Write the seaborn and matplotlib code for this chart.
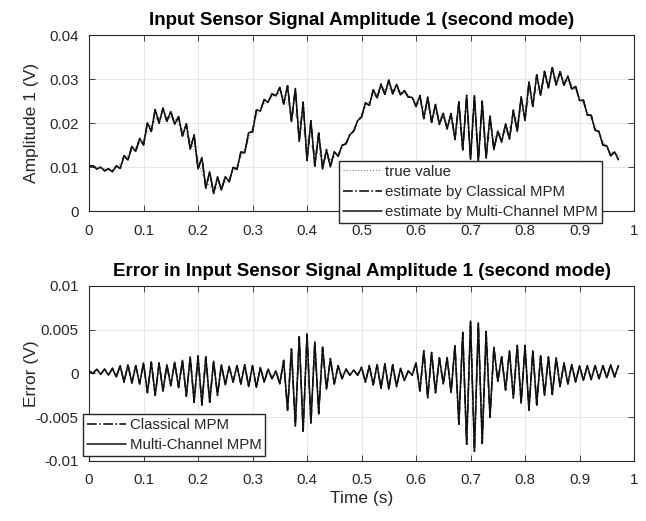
import numpy as np
import pandas as pd
import matplotlib
matplotlib.use('Agg')
import matplotlib.pyplot as plt
import seaborn as sns

# true amplitude (smooth curve)
true_t = [0, 0.039, 0.053, 0.078, 0.1, 0.112, 0.124, 0.139, 0.158, 0.17,
          0.188, 0.198, 0.207, 0.222, 0.237, 0.255, 0.274, 0.292, 0.305, 0.314,
          0.335, 0.352, 0.363, 0.378, 0.39, 0.4, 0.412, 0.425, 0.445, 0.464,
          0.485, 0.503, 0.521, 0.549, 0.571, 0.589, 0.613, 0.644, 0.675, 0.708,
          0.736, 0.766, 0.791, 0.815, 0.84, 0.858, 0.883, 0.901, 0.92, 0.938,
          0.952, 0.975]
true_v = [0.0105, 0.0093, 0.0100, 0.0135, 0.0162, 0.0190, 0.0210, 0.0215, 0.0210, 0.0188,
          0.0155, 0.0124, 0.0086, 0.0055, 0.0052, 0.0070, 0.0109, 0.0160, 0.0207, 0.0234,
          0.0260, 0.0270, 0.0245, 0.0220, 0.0190, 0.0160, 0.0140, 0.0128, 0.0116, 0.0143,
          0.0184, 0.0228, 0.0262, 0.0280, 0.0270, 0.0260, 0.0237, 0.0214, 0.0192, 0.0173,
          0.0166, 0.0180, 0.0222, 0.0265, 0.0298, 0.0305, 0.0292, 0.0258, 0.0214, 0.0169,
          0.0139, 0.0123]

# error extremes (mV), one peak/trough pair per cycle of the 70 Hz ripple
err_peaks = [0.3, 0.5, 0.5, 0.6, 0.9, 1.0, 0.9, 1.2, 1.3, 1.2,
             1.0, 1.3, 1.5, 1.9, 2.0, 1.9, 1.4, 1.0, 0.8, 0.9,
             1.0, 0.9, 0.7, 0.5, 0.3, 1.5, 2.8, 4.2, 4.5, 3.6,
             3.0, 1.7, 0.9, 0.5, 0.4, 0.7, 0.9, 1.0, 1.1, 1.0,
             0.6, 0.3, 1.2, 2.6, 2.4, 1.8, 1.8, 3.2, 4.7, 6.0,
             5.8, 4.8, 3.0, 1.9, 2.6, 3.2, 3.2, 2.6, 2.0, 1.9,
             1.8, 1.2, 1.0, 0.9, 0.9, 0.9, 0.9, 1.0, 0.9]
err_troughs = [0.0, -0.1, -0.2, -0.4, -1.0, -1.1, -1.2, -2.2, -2.5, -2.0,
               -1.4, -1.6, -2.6, -3.3, -3.6, -3.3, -2.5, -1.3, -1.0, -1.2,
               -1.5, -1.6, -1.0, -0.6, -1.2, -4.2, -6.0, -6.6, -5.7, -4.6,
               -1.8, -1.2, -0.6, -0.2, -0.2, -1.0, -1.3, -1.7, -1.8, -1.5,
               -0.8, -0.2, -2.0, -2.8, -2.2, -1.2, -2.2, -5.8, -8.1, -8.9,
               -8.0, -5.0, -0.9, -1.9, -2.8, -3.4, -4.2, -3.6, -2.5, -2.4,
               -1.5, -1.2, -1.0, -0.8, -0.7, -0.6, -0.5, -0.4]

SAMPLE_RATE = 140  # two extremes per 70 Hz cycle

x_ticks = [0, 0.1, 0.2, 0.3, 0.4, 0.5, 0.6, 0.7, 0.8, 0.9, 1]
x_tick_labels = ['0', '0.1', '0.2', '0.3', '0.4', '0.5', '0.6', '0.7', '0.8', '0.9', '1']
amp_ticks = [0, 0.01, 0.02, 0.03, 0.04]
amp_tick_labels = ['0', '0.01', '0.02', '0.03', '0.04']
err_ticks = [-0.01, -0.005, 0, 0.005, 0.01]
err_tick_labels = ['-0.01', '-0.005', '0', '0.005', '0.01']

INK = '#262626'
TICK_FS = 10.8
LABEL_FS = 12.5
TITLE_FS = 13.5


def build_frame():
    err = np.empty(len(err_peaks) + len(err_troughs))
    err[0::2] = err_peaks
    err[1::2] = err_troughs
    err = err * 1e-3
    t = np.arange(len(err)) / SAMPLE_RATE
    est = np.interp(t, true_t, true_v) - err
    return pd.DataFrame({'t': t, 'err': err, 'est': est})


def style_axes(ax, yticks, ylabels):
    ax.set_xlim(0, 1)
    ax.set_xticks(x_ticks)
    ax.set_xticklabels(x_tick_labels)
    ax.set_yticks(yticks)
    ax.set_yticklabels(ylabels)
    ax.set_ylim(yticks[0], yticks[-1])
    ax.grid(True, color='#e3e3e3', linewidth=0.6)
    ax.tick_params(direction='in', length=4, width=0.6, bottom=True, left=True,
                   top=True, right=True, colors=INK, labelsize=TICK_FS)
    ax.tick_params(axis='x', pad=9)
    ax.tick_params(axis='y', pad=7.5)
    for sp in ax.spines.values():
        sp.set_color(INK)
        sp.set_linewidth(0.8)
    ax.set_facecolor('white')


def add_legend(ax, fig, x_px, y_px):
    ax.legend(loc='upper left', bbox_to_anchor=(x_px / 646, 1 - y_px / 521),
              bbox_transform=fig.transFigure, borderaxespad=0, fancybox=False,
              edgecolor=INK, framealpha=1, fontsize=TICK_FS, handlelength=2.6,
              handletextpad=0.25, labelspacing=0.42, borderpad=0.25)


def main():
    sns.set_theme(style='whitegrid')
    plt.rcParams['font.family'] = ['Liberation Sans', 'DejaVu Sans']

    df = build_frame()

    fig = plt.figure(figsize=(6.46, 5.21), dpi=100)
    ax1 = fig.add_axes([0.1378, 0.595, 0.8437, 0.3378])
    ax2 = fig.add_axes([0.1378, 0.1152, 0.8437, 0.3359])

    # upper panel
    sns.lineplot(x=true_t, y=true_v, ax=ax1, color='#808080', linestyle=':',
                 linewidth=0.8, label='true value', estimator=None)
    sns.lineplot(data=df, x='t', y='est', ax=ax1, color='black', linestyle='-.',
                 linewidth=1.1, label='estimate by Classical MPM', estimator=None)
    sns.lineplot(data=df, x='t', y='est', ax=ax1, color='#111111', linestyle='-',
                 linewidth=1.1, label='estimate by Multi-Channel MPM', estimator=None)
    style_axes(ax1, amp_ticks, amp_tick_labels)
    ax1.set_title('Input Sensor Signal Amplitude 1 (second mode)',
                  fontsize=TITLE_FS, fontweight='bold', color='black', pad=7)
    ax1.set_xlabel('')
    ax1.set_ylabel('Amplitude 1 (V)', fontsize=LABEL_FS, color=INK)
    ax1.yaxis.set_label_coords(-0.091, 0.5)
    add_legend(ax1, fig, 339, 161)

    # lower panel
    sns.lineplot(data=df, x='t', y='err', ax=ax2, color='black', linestyle='-.',
                 linewidth=1.1, label='Classical MPM', estimator=None)
    sns.lineplot(data=df, x='t', y='err', ax=ax2, color='#111111', linestyle='-',
                 linewidth=1.1, label='Multi-Channel MPM', estimator=None)
    style_axes(ax2, err_ticks, err_tick_labels)
    ax2.set_title('Error in Input Sensor Signal Amplitude 1 (second mode)',
                  fontsize=TITLE_FS, fontweight='bold', color='black', pad=7)
    ax2.set_xlabel('Time (s)', fontsize=LABEL_FS, color=INK, labelpad=2.5)
    ax2.set_ylabel('Error (V)', fontsize=LABEL_FS, color=INK)
    ax2.yaxis.set_label_coords(-0.091, 0.5)
    add_legend(ax2, fig, 83, 414)

    fig.savefig('out.png', dpi=100, facecolor='white')
    plt.close(fig)


if __name__ == "__main__":
    main()
